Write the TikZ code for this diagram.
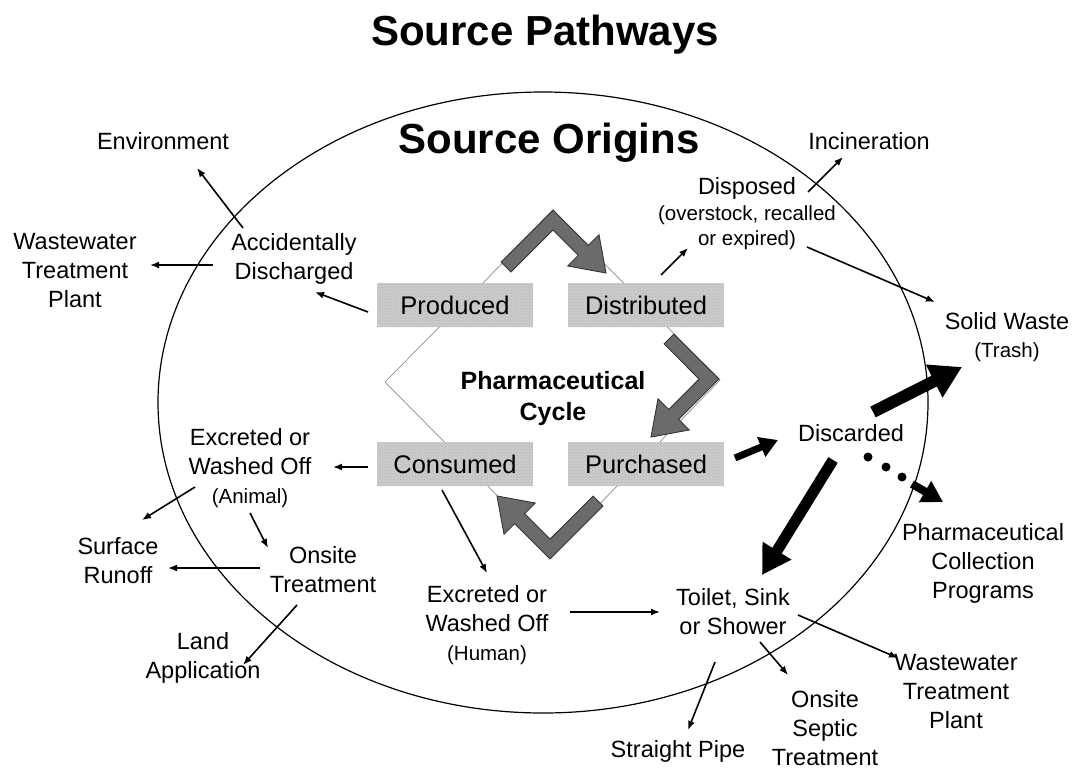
\documentclass[tikz,border=0pt]{standalone}
\usepackage{fontspec}
\setmainfont{Liberation Sans}
\usetikzlibrary{arrows.meta,patterns}
\newcommand\smallpar{\fontsize{20.5}{25}\selectfont}
\begin{document}
\begin{tikzpicture}[x=1pt,y=-1pt,
  lbl/.style={align=center,font=\fontsize{23.5}{29}\selectfont,inner sep=0pt},
  ttl/.style={font=\bfseries\fontsize{42}{48}\selectfont,inner sep=0pt},
  box/.style={fill=black!20,postaction={pattern=crosshatch dots,pattern color=black!30},
    minimum width=156pt,minimum height=44pt,inner sep=0pt,font=\fontsize{25.5}{30}\selectfont},
  arr/.style={line width=1.6pt,-{Latex[length=9pt,width=7pt]}},
  fat/.style={line width=#1,-{Triangle[length=2.6*#1,width=2.9*#1]}},
  chev/.style={fill=black!58,draw=black!80,line width=0.9pt,line join=miter},
  dia/.style={draw=black!45,line width=0.7pt}]
\useasboundingbox (0,0) rectangle (1073,769);

% ellipse
\draw[line width=1.2pt] (543,402.5) ellipse [x radius=385, y radius=310.5];

% thin diamond of the cycle
\draw[dia] (553,212) -- (720,380) -- (553,552) -- (385,382) -- cycle;

% boxes
\node[box] (prod) at (455,305) {Produced};
\node[box] (dist) at (646,305) {Distributed};
\node[box] (cons) at (455,464) {Consumed};
\node[box] (purch) at (646,464) {Purchased};

% chevron arrows
\draw[chev] (501.1,262.1) -- (553,210.1) -- (588.3,245.4) -- (599.0,234.8) -- (606,273)
  -- (567.8,266.0) -- (578.4,255.3) -- (553,229.9) -- (511.0,271.9) -- cycle;
\draw[chev] (673.9,334.1) -- (718.9,379) -- (678.6,419.4) -- (689.2,430.0) -- (651,437)
  -- (658.0,398.8) -- (668.7,409.5) -- (699.1,379) -- (664.1,343.9) -- cycle;
\draw[chev] (603.0,506.0) -- (550,558.9) -- (514.7,523.6) -- (504.0,534.2) -- (497,496)
  -- (535.2,503.0) -- (524.6,513.7) -- (550,539.1) -- (593.1,496.1) -- cycle;

% titles
\node[ttl] (title) at (545,35) {Source Pathways};
\node[ttl] (origins) at (549,143) {Source Origins};
\node[align=center,inner sep=0pt,font=\bfseries\fontsize{25}{31}\selectfont] (cycle) at (553,399) {Pharmaceutical\\Cycle};

% labels
\node[lbl] (env) at (163,141) {Environment};
\node[lbl] (wwtpL) at (75,271) {Wastewater\\Treatment\\Plant};
\node[lbl] (acc) at (294,259) {Accidentally\\Discharged};
\node[lbl] (inc) at (869,141) {Incineration};
\node[lbl] (disp) at (747,214) {Disposed\\[-3pt]{\smallpar (overstock, recalled}\\[-4pt]{\smallpar or expired)}};
\node[lbl] (solid) at (1007,337) {Solid Waste\\[-1pt]{\smallpar (Trash)}};
\node[lbl] (disc) at (851,433) {Discarded};
\node[lbl] (pcp) at (983,563) {Pharmaceutical\\Collection\\Programs};
\node[lbl] (exA) at (250,468) {Excreted or\\Washed Off\\{\smallpar (Animal)}};
\node[lbl] (surf) at (118,561) {Surface\\Runoff};
\node[lbl] (onsite) at (323,570) {Onsite\\Treatment};
\node[lbl] (land) at (203,658) {Land\\Application};
\node[lbl] (exH) at (487,625) {Excreted or\\Washed Off\\{\smallpar (Human)}};
\node[lbl] (toilet) at (733,612) {Toilet, Sink\\or Shower};
\node[lbl] (pipe) at (678,751) {Straight Pipe};
\node[lbl] (septic) at (825,728) {Onsite\\Septic\\Treatment};
\node[lbl] (wwtpR) at (956,692) {Wastewater\\Treatment\\Plant};

% thin arrows
\draw[arr] ([shift={(-51,-31)}]acc.center) -- ([shift={(34,27)}]env.center);
\draw[arr] ([shift={(-81,6)}]acc.center) -- ([shift={(75,-6)}]wwtpL.center);
\draw[arr] ([shift={(-87,7)}]prod.center) -- ([shift={(21,33)}]acc.center);
\draw[arr] ([shift={(61,-22)}]disp.center) -- ([shift={(-26,16)}]inc.center);
\draw[arr] ([shift={(15,-30)}]dist.center) -- ([shift={(-59,34)}]disp.center);
\draw[arr] ([shift={(60,33)}]disp.center) -- ([shift={(-72,-35)}]solid.center);
\draw[arr] ([shift={(-87,3)}]cons.center) -- ([shift={(83,-1)}]exA.center);
\draw[arr] ([shift={(-55,19)}]exA.center) -- ([shift={(24,-41)}]surf.center);
\draw[arr] ([shift={(0,45)}]exA.center) -- ([shift={(-55,-22)}]onsite.center);
\draw[arr] ([shift={(-63,-2)}]onsite.center) -- ([shift={(50,7)}]surf.center);
\draw[arr] ([shift={(-26,35)}]onsite.center) -- ([shift={(40,7)}]land.center);
\draw[arr] ([shift={(-13,26)}]cons.center) -- ([shift={(0,-52)}]exH.center);
\draw[arr] ([shift={(83,-13)}]exH.center) -- ([shift={(-73,0)}]toilet.center);
\draw[arr] ([shift={(-18,50)}]toilet.center) -- ([shift={(10,-21)}]pipe.center);
\draw[arr] ([shift={(27,30)}]toilet.center) -- ([shift={(-37,-53)}]septic.center);
\draw[arr] ([shift={(65,3)}]toilet.center) -- ([shift={(-58,-34)}]wwtpR.center);

% thick arrows
\draw[fat=7pt] ([shift={(89,-6)}]purch.center) -- ([shift={(-73,7)}]disc.center);
\draw[fat=12pt] ([shift={(22,-21)}]disc.center) -- ([shift={(-45,30)}]solid.center);
\draw[fat=11pt] ([shift={(-18,27)}]disc.center) -- ([shift={(29,-37)}]toilet.center);
\fill ([shift={(17,24)}]disc.center) circle [radius=4.5pt];
\fill ([shift={(35,34)}]disc.center) circle [radius=4.5pt];
\fill ([shift={(51,44)}]disc.center) circle [radius=4.5pt];
\draw[fat=8pt] ([shift={(61,51)}]disc.center) -- ([shift={(-40,-61)}]pcp.center);
\end{tikzpicture}
\end{document}
